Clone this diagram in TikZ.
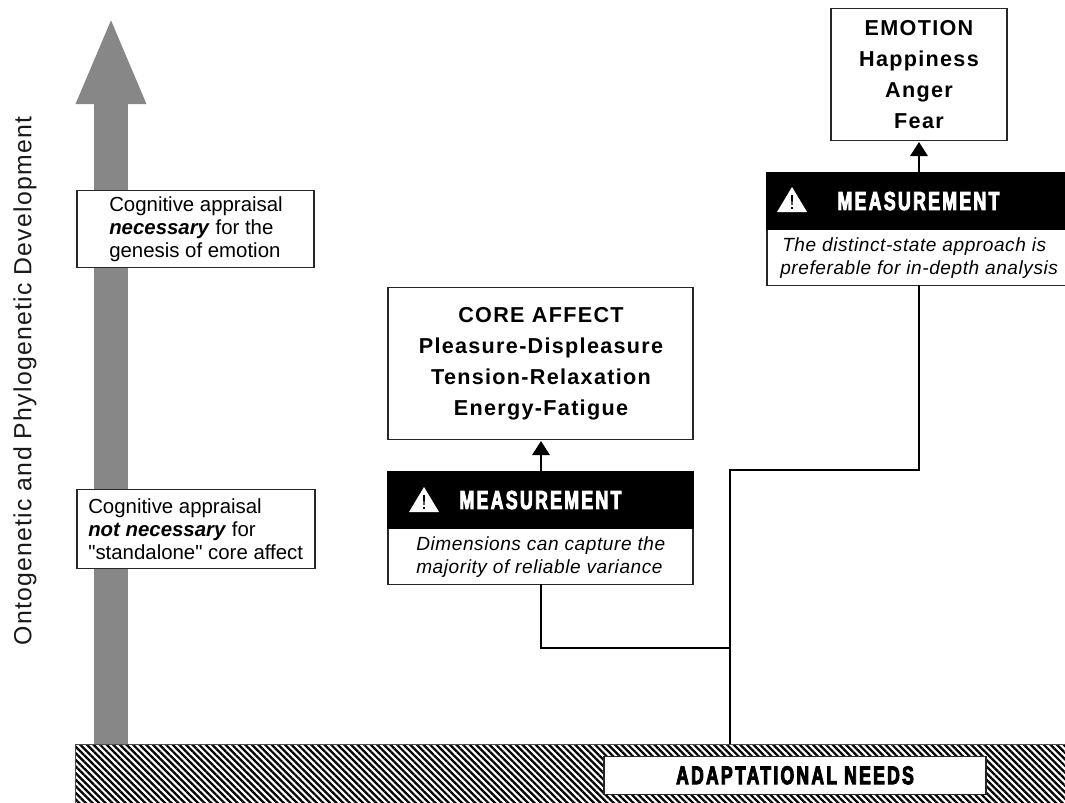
\documentclass[tikz,border=0pt]{standalone}
\usepackage{fontspec}
\setmainfont{Liberation Sans}
\newfontfamily\rawfont{Liberation Sans}
\newfontfamily\titlefont[LetterSpace=6,BoldFont={Liberation Sans Bold}]{Liberation Sans}
\newfontfamily\itfont[LetterSpace=3]{Liberation Sans}
\newfontfamily\sidefont[LetterSpace=5]{Liberation Sans}
\newfontfamily\heavyfont[FakeStretch=0.68,FakeBold=3.5,LetterSpace=9]{Liberation Sans Bold}
\usetikzlibrary{arrows.meta,patterns.meta}
\tikzset{
  x=0.75pt,y=-0.75pt,
  wire/.style={draw=black,line width=1.5pt},
  tipwire/.style={wire,-{Triangle[length=10.5pt,width=13pt]}},
  framebox/.style={draw=black!85,line width=0.9pt,fill=white,anchor=north west,inner sep=0pt,xshift=-0.45pt,yshift=0.2pt},
  headbox/.style={draw=black,fill=black,anchor=north west,inner sep=0pt,line width=0.9pt,xshift=-0.45pt,yshift=0.2pt},
  titletext/.style={font=\fontsize{16.2}{23.2}\selectfont\titlefont\bfseries,align=center,text=black},
  bodytext/.style={font=\fontsize{15.3}{17.4}\selectfont,align=left,text=black,inner sep=0pt},
  noteitalic/.style={font=\fontsize{14.3}{17.1}\selectfont\itfont\itshape,align=left,text=black,inner sep=0pt,anchor=west},
  headtext/.style={font=\fontsize{19.5}{20}\selectfont\heavyfont,text=white},
  warn/.style={fill=white,draw=none},
}
\newcommand{\warnsign}[2]{%
  \fill[warn] (#1,#2-13) -- (#1+15,#2+12) -- (#1-15,#2+12) -- cycle;
  \fill[black] (#1-1,#2-5) -- (#1+1,#2-5) -- (#1+0.6,#2+5) -- (#1-0.6,#2+5) -- cycle;
  \fill[black] (#1-1,#2+6.5) rectangle (#1+1,#2+9);
}
\begin{document}
\begin{tikzpicture}
\useasboundingbox (0,0) rectangle (1065,803);
% ground
\node[anchor=north west,inner sep=0pt,minimum width=743pt,minimum height=44.75pt,draw=black!70,line width=0.9pt,xshift=-0.6pt,yshift=0.3pt,
  pattern={Lines[angle=-45,distance=3.5pt,line width=1.7pt]},pattern color=black] (ground) at (75,744) {};
\node[framebox,minimum width=286.5pt,minimum height=28.5pt,font=\fontsize{19.3}{20}\selectfont\heavyfont,text=black] (needs) at (604,756) {ADAPTATIONAL NEEDS};
% big arrow
\coordinate (upbase) at (111,744);
\coordinate (uptip) at (111,16);
\draw[draw=black!47,line width=25.5pt,-{Triangle[length=66pt,width=47.5pt,fill=black!47]}] (upbase) -- (uptip);
% side label
\node[rotate=90,font=\fontsize{18.6}{20}\selectfont\sidefont,text=black!90] (axislabel) at (25,381) {Ontogenetic and Phylogenetic Development};
% cognitive boxes
\node[framebox,minimum width=177.75pt,minimum height=57.75pt] (cogA) at (77,190) {};
\node[bodytext,anchor=west] (cogAtext) at (109,229) {Cognitive appraisal\\\textbf{\textit{necessary}} for the\\genesis of emotion};
\node[framebox,minimum width=178.5pt,minimum height=59.25pt] (cogB) at (77,489) {};
\node[bodytext,anchor=west] (cogBtext) at (88,529.5) {Cognitive appraisal\\\textbf{\textit{not necessary}} for\\{\rawfont"}standalone{\rawfont"} core affect};
% core affect
\node[framebox,minimum width=228.75pt,minimum height=114pt] (core) at (388,287) {};
\node[titletext] (coretext) at (541,364) {CORE AFFECT\\Pleasure-Displeasure\\Tension-Relaxation\\Energy-Fatigue};
% emotion
\node[framebox,minimum width=132pt,minimum height=99pt] (emotion) at (831,8) {};
\node[titletext] (emotiontext) at (919,74.8) {EMOTION\\Happiness\\Anger\\Fear};
% measurement left
\node[framebox,minimum width=228.75pt,minimum height=84.75pt] (measL) at (388,471) {};
\node[headbox,minimum width=228.75pt,minimum height=43pt] (headL) at (388,471) {};
\warnsign{424}{500}
\node[headtext] (headLtext) at (540.5,500) {MEASUREMENT};
\node[noteitalic] (noteL) at (416,557) {Dimensions can capture the\\majority of reliable variance};
% measurement right
\node[framebox,minimum width=240pt,minimum height=84.75pt] (measR) at (767,172) {};
\node[headbox,minimum width=240pt,minimum height=43pt] (headR) at (767,172) {};
\warnsign{792}{200}
\node[headtext] (headRtext) at (918.5,201) {MEASUREMENT};
\node[noteitalic] (noteR) at (780,258) {\hspace*{1.5pt}The distinct-state approach is\\preferable for in-depth analysis};
% connectors
\coordinate (trunkbase) at (730,744);
\coordinate (trunkbranch) at (730,648);
\coordinate (leftdrop) at (541,584);
\coordinate (rightdrop) at (919,285);
\draw[wire] (leftdrop) |- (trunkbranch);
\draw[wire] (trunkbase) -- (730,470) -- (919,470) -- (rightdrop);
\coordinate (leftup) at (541,471);
\coordinate (leftupend) at (541,441);
\coordinate (rightup) at (919,172);
\coordinate (rightupend) at (919,142);
\draw[tipwire] (leftup) -- (leftupend);
\draw[tipwire] (rightup) -- (rightupend);
\end{tikzpicture}
\end{document}
